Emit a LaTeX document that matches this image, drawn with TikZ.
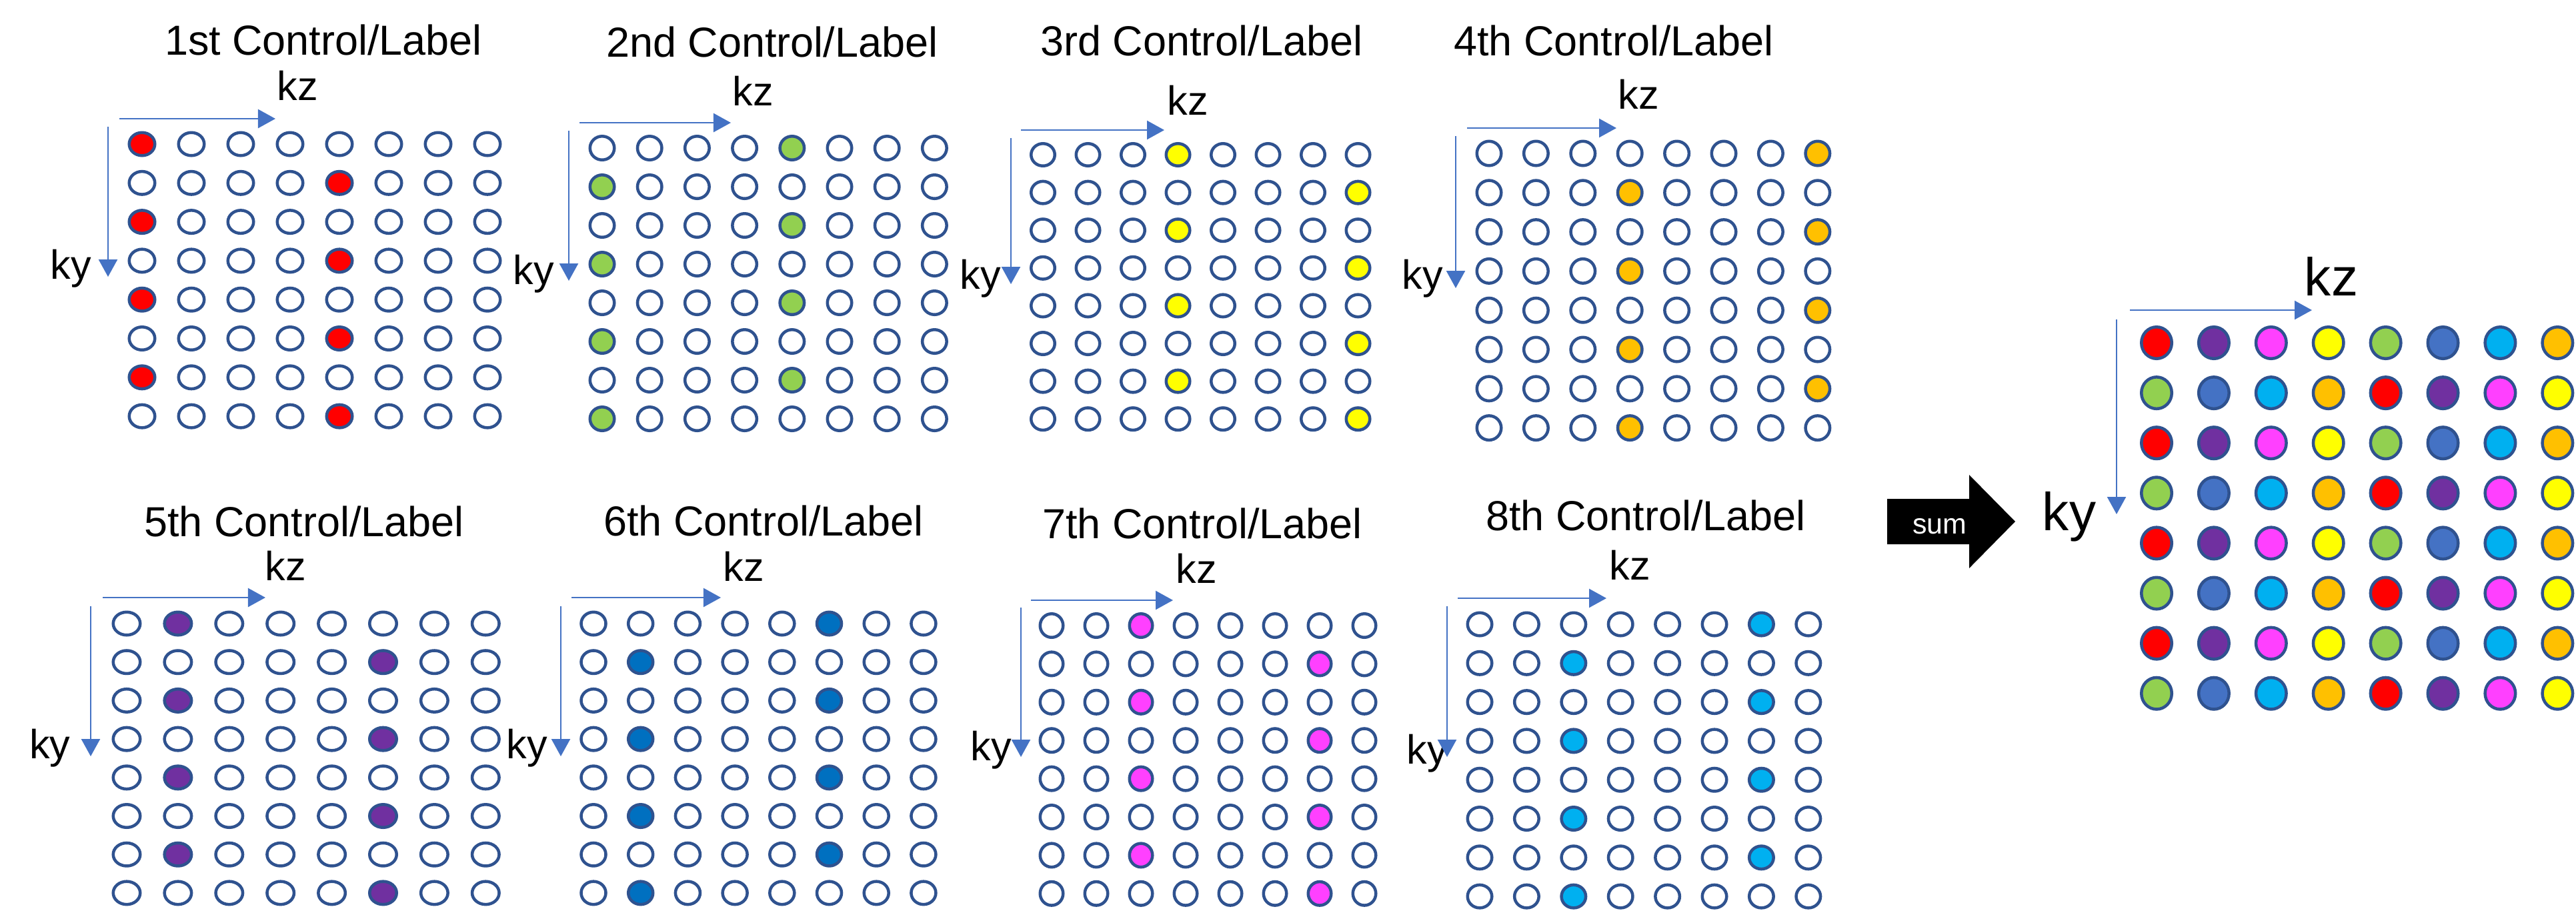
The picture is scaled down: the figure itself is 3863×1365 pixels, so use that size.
\documentclass[tikz,border=0pt]{standalone}
\usepackage{fontspec}
\setmainfont{Liberation Sans}
\usetikzlibrary{arrows.meta,shapes.geometric}
\definecolor{cRed}{HTML}{FF0000}
\definecolor{cGreen}{HTML}{92D050}
\definecolor{cYellow}{HTML}{FFFF00}
\definecolor{cOrange}{HTML}{FFC000}
\definecolor{cPurple}{HTML}{7030A0}
\definecolor{cBlue}{HTML}{0070C0}
\definecolor{cMagenta}{HTML}{FF40FF}
\definecolor{cCyan}{HTML}{00B0F0}
\definecolor{cSteel}{HTML}{4472C4}
\definecolor{ringcol}{HTML}{2F528F}
\definecolor{axiscol}{HTML}{4472C4}
\colorlet{cF0}{cRed}
\colorlet{cF1}{cPurple}
\colorlet{cF2}{cMagenta}
\colorlet{cF3}{cYellow}
\colorlet{cF4}{cGreen}
\colorlet{cF5}{cSteel}
\colorlet{cF6}{cCyan}
\colorlet{cF7}{cOrange}
\tikzset{
  dot/.style={ellipse, draw=ringcol, line width=1.28pt, inner sep=0pt, outer sep=0pt},
  axis/.style={draw=axiscol, line width=0.7pt, -{Triangle[length=0.26cm,width=0.28cm]}},
  titletxt/.style={anchor=base, inner sep=0pt, font=\fontsize{17.9pt}{20pt}\selectfont},
  axtxt/.style={anchor=base, inner sep=0pt, font=\fontsize{17.4pt}{20pt}\selectfont},
  bigaxtxt/.style={anchor=base, inner sep=0pt, font=\fontsize{22.8pt}{26pt}\selectfont},
}
\begin{document}
\begin{tikzpicture}[x=0.01cm, y=-0.01cm]
\fill[white] (0,0) rectangle (3863,1365);
\useasboundingbox (0,0) rectangle (3863,1365);

% ---- eight panels: grids ----
\foreach \i/\gx/\dx/\gy/\dy/\w/\h/\fc/\ce/\co in {
  1/213/74.0/216/58.3/43/39/cRed/0/4,
  2/903/71.2/222/58.0/41/40/cGreen/4/0,
  3/1564/67.5/232/56.6/40/38/cYellow/3/7,
  4/2233/70.4/230/58.8/41/41/cOrange/7/3,
  5/190/76.9/935/57.7/45/39/cPurple/1/5,
  6/890/70.7/935/57.7/41.5/39/cBlue/5/1,
  7/1577/67.0/938/57.4/39/40/cMagenta/2/6,
  8/2219/70.4/936/58.3/41/39/cCyan/6/2}{
  \pgfmathsetmacro\mw{(\w-4.5)*0.01}
  \pgfmathsetmacro\mh{(\h-4.5)*0.01}
  \foreach \r in {0,...,7}{
    \foreach \c in {0,...,7}{
      \pgfmathtruncatemacro\ec{mod(\r,2)==0 ? \ce : \co}
      \ifnum\c=\ec \def\cc{\fc}\else\def\cc{white}\fi
      \node[dot, fill=\cc, minimum width=\mw cm, minimum height=\mh cm]
        (p\i-\r-\c) at ({\gx+\c*\dx},{\gy+\r*\dy}) {};
    }
  }
}

% ---- titles ----
\foreach \i/\tx/\ty/\t in {
  1/485/82/1st, 2/1158/85/2nd, 3/1802/83/3rd, 4/2420/83/4th,
  5/456/804/5th, 6/1145/803/6th, 7/1803/807/7th, 8/2468/795/8th}{
  \node[titletxt] (title\i) at (\tx,\ty) {\t\ Control/Label};
}

% ---- kz / ky labels ----
\foreach \i/\zx/\zy/\yx/\yy in {
  1/446/150/106/418, 2/1129/158/800/426, 3/1781/172/1470/433, 4/2457/163/2133/433,
  5/428/870/75/1137, 6/1115/871/790/1137, 7/1794/874/1486/1140, 8/2444/869/2140/1145}{
  \node[axtxt] (kz\i) at (\zx,\zy) {kz};
  \node[axtxt] (ky\i) at (\yx,\yy) {ky};
}

% ---- axis arrows ----
\foreach \i/\ax/\bx/\ay/\vx/\vy/\vz in {
  1/179/413/178/162/190/415, 2/869/1096/184/853/196/421,
  3/1531/1746/195/1516/207/426, 4/2200/2424/192/2183/204/432,
  5/154/398/896/136/909/1134, 6/857/1081/896/841/909/1134,
  7/1546/1759/900/1531/911/1135, 8/2186/2409/897/2170/909/1135}{
  \coordinate (kzs\i) at (\ax,\ay);
  \coordinate (kze\i) at (\bx,\ay);
  \coordinate (kys\i) at (\vx,\vy);
  \coordinate (kye\i) at (\vx,\vz);
  \draw[axis] (kzs\i) -- (kze\i);
  \draw[axis] (kys\i) -- (kye\i);
}

% ---- sum arrow ----
\fill[black] (2830,748) -- (2953,748) -- (2953,712) -- (3022,782) -- (2953,852) -- (2953,816) -- (2830,816) -- cycle;
\node[anchor=base, inner sep=0pt, text=white, font=\fontsize{12.2pt}{14pt}\selectfont] (sum) at (2909,800) {sum};

% ---- final grid ----
\foreach \r in {0,...,7}{
  \foreach \c in {0,...,7}{
    \pgfmathtruncatemacro\idx{mod(\r,2)==0 ? \c : mod(\c+4,8)}
    \node[dot, fill=cF\idx, minimum width=0.455cm, minimum height=0.475cm]
      (f-\r-\c) at ({3234+\c*85.9},{514+\r*75.1}) {};
  }
}
\node[bigaxtxt] (kzF) at (3496,443) {kz};
\node[bigaxtxt] (kyF) at (3103,795) {ky};
\coordinate (kzsF) at (3194,465);
\coordinate (kzeF) at (3467,465);
\coordinate (kysF) at (3174,479);
\coordinate (kyeF) at (3174,771);
\draw[axis] (kzsF) -- (kzeF);
\draw[axis] (kysF) -- (kyeF);
\end{tikzpicture}
\end{document}
